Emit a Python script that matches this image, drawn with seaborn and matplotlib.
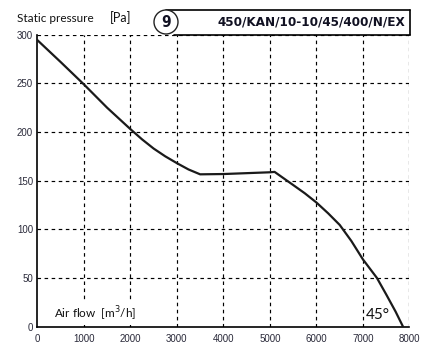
import matplotlib
matplotlib.use("Agg")
import matplotlib.pyplot as plt
from matplotlib.patches import Ellipse
from matplotlib.lines import Line2D
import seaborn as sns
import pandas as pd

# ---- data ----
air_flow = [0, 500, 1000, 1500, 2000, 2250, 2500, 2750, 3000, 3250, 3500, 4000, 4500,
            5000, 5100, 5500, 5750, 6000, 6250, 6500, 6750, 7000, 7300, 7500, 7700, 7860]
static_pressure = [294.5, 272, 249, 225, 203, 192.5, 183, 175, 168, 161.5, 156.5, 156.8,
                   157.7, 158.6, 159, 145.5, 137, 127.5, 116.5, 104.5, 88, 69, 50,
                   33, 15.5, 0]
x_ticks = [0, 1000, 2000, 3000, 4000, 5000, 6000, 7000, 8000]
y_ticks = [0, 50, 100, 150, 200, 250, 300]
title_text = "450/KAN/10-10/45/400/N/EX"
badge_text = "9"
y_label = "Static pressure"
y_unit = "[Pa]"
x_label = "Air flow  [m$^3$/h]"
angle_text = "45°"

df = pd.DataFrame({"flow": air_flow, "pressure": static_pressure})

sns.set_style("white")
plt.rcParams["font.family"] = ["Liberation Sans", "DejaVu Sans"]

W, H = 429, 359
fig = plt.figure(figsize=(W / 100, H / 100), dpi=100)
L, R, T, B = 37.3, 409.5, 34.7, 326.6
ax = fig.add_axes([L / W, 1 - B / H, (R - L) / W, (B - T) / H])

sns.lineplot(data=df, x="flow", y="pressure", ax=ax, color="#1a1a1a",
             linewidth=1.6, sort=False, zorder=5)

ax.set_xlim(0, 8000)
ax.set_ylim(0, 300)
ax.set_xticks(x_ticks)
ax.set_yticks(y_ticks)
ax.set_xticklabels([str(v) for v in x_ticks])
ax.set_yticklabels([str(v) for v in y_ticks])
ax.tick_params(axis="both", length=0, labelsize=7, colors="#2a2a3a", pad=3)
ax.tick_params(axis="x", pad=5)
ax.set_xlabel("")
ax.set_ylabel("")

for v in x_ticks[1:]:
    ax.axvline(v, color="black", lw=0.85, ls=(0, (3, 3)), zorder=1)
for v in y_ticks[1:]:
    ax.axhline(v, color="black", lw=0.85, ls=(0, (3, 3)), zorder=1)

for s in ["top", "right"]:
    ax.spines[s].set_visible(False)
for s in ["left", "bottom"]:
    ax.spines[s].set_color("black")
    ax.spines[s].set_linewidth(1.2)

# texts
ax.text(0.045, 0.045, x_label, transform=ax.transAxes, fontsize=8.5,
        family="Lato", color="#111111", ha="left", va="center",
        bbox=dict(facecolor="white", edgecolor="none", pad=1.5), zorder=3)
ax.text(0.882, 0.04, angle_text, transform=ax.transAxes, fontsize=11,
        family="Lato", color="#111111", ha="left", va="center",
        bbox=dict(facecolor="white", edgecolor="none", pad=0.5), zorder=3)

fig.text(17 / W, 1 - 18 / H, y_label, fontsize=8.5, family="Lato",
         color="#111111", ha="left", va="center")
fig.text(110 / W, 1 - 18 / H, y_unit, fontsize=9, family="Lato",
         color="#111111", ha="left", va="center")

# header box
cx, cy, r = 166, 22, 12
fig.add_artist(Line2D([cx / W, R / W], [1 - 10.3 / H, 1 - 10.3 / H],
                      color="black", lw=1.2, transform=fig.transFigure))
fig.add_artist(Line2D([R / W, R / W], [1 - 10.3 / H, 1 - T / H],
                      color="black", lw=1.2, transform=fig.transFigure))
fig.add_artist(Line2D([(cx + 8) / W, R / W], [1 - T / H, 1 - T / H],
                      color="black", lw=1.2, transform=fig.transFigure))
fig.add_artist(Ellipse((cx / W, 1 - cy / H), 2 * r / W, 2 * r / H,
                       transform=fig.transFigure, facecolor="white",
                       edgecolor="#222222", lw=1.0, zorder=10))
fig.text(cx / W, 1 - (cy + 0.5) / H, badge_text, fontsize=11, fontweight="bold",
         family="DejaVu Sans", fontstretch="condensed", ha="center", va="center",
         color="#111122", zorder=11)
fig.text(405 / W, 1 - 22 / H, title_text, fontsize=9.6, fontweight="bold",
         family="DejaVu Sans", fontstretch="condensed", ha="right", va="center",
         color="#111122")

fig.savefig("out.png", dpi=100, facecolor="white")
